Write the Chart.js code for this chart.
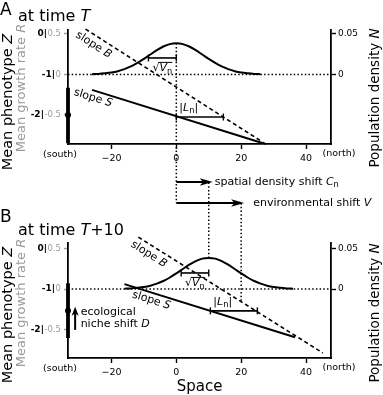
<!DOCTYPE html>
<html><head><meta charset="utf-8">
<script src="https://cdn.jsdelivr.net/npm/chart.js@4.4.1/dist/chart.umd.min.js"></script>
<style>
html,body{margin:0;padding:0;background:#fff;}
#wrap{position:relative;width:383px;height:395px;overflow:hidden;background:#fff;}
#wrap canvas{position:absolute;left:0;}
</style></head><body>
<div id="wrap">
<canvas id="cA" width="383" height="215" style="top:0;width:383px;height:215px"></canvas>
<canvas id="cB" width="383" height="225" style="top:170px;width:383px;height:225px"></canvas>
</div>
<script>
// ---------- shared axes ----------
const xRange = [-33.4, 47.7];
const xTicks = [-20, 0, 20, 40];
const rTicks = [0.5, 0, -0.5];
const zTickLabels = ['0', '-1', '-2'];
const nTicks = [0, 0.05];

// ---------- panel A : at time T ----------
const rRangeA = [-0.858, 0.549];
const nRangeA = [-0.0858, 0.0549];
const densityXA = [-26,-24,-22,-20,-18,-16,-14,-12,-10,-8,-6,-4,-2,0,2,4,6,8,10,12,14,16,18,20,22,24,26];
const densityA  = [0.0004,0.0007,0.0014,0.0024,0.0041,0.0066,0.0099,0.0142,0.0193,0.0247,0.0300,0.0345,0.0375,0.0385,0.0375,0.0345,0.0300,0.0247,0.0193,0.0142,0.0099,0.0066,0.0041,0.0024,0.0014,0.0007,0.0004];
const growthXA = [-26,-22,-18,-14,-10,-6,-2,2,6,10,14,18,22,26];
const growthA  = [-0.660,-0.535,-0.418,-0.311,-0.211,-0.120,-0.038,0.036,0.100,0.157,0.205,0.244,0.275,0.296];
const phenoXA = [-26, 26.5];
const phenoA  = [-1.38, -2.69];      // slope S
const optimumXA = [-28, 28];
const optimumA  = [0.12, -2.74];     // slope B
const nicheA = [-1.33, -2.0, -2.70]; // top, centre, bottom (Z)
const sdXA = [-8.6, 0];  const sdLevelA = 0.0204;
const lagXA = [0, 14.5]; const lagLevelA = -2.05;
const linkXA = 0; const linkA = [0.0385, -0.1586];

// ---------- shifts between panels ----------
const shiftCn = [0, 10];
const shiftV  = [0, 20];
const shiftLevelsA = [-0.1327, -0.1586];   // on panel A density scale

// ---------- panel B : at time T+10 ----------
const rRangeB = [-0.852, 0.568];
const nRangeB = [-0.0852, 0.0568];
const densityXB = [-16,-14,-12,-10,-8,-6,-4,-2,0,2,4,6,8,10,12,14,16,18,20,22,24,26,28,30,32,34,36];
const densityB  = [0.0004,0.0007,0.0014,0.0024,0.0041,0.0066,0.0099,0.0142,0.0193,0.0247,0.0300,0.0345,0.0375,0.0383,0.0375,0.0345,0.0300,0.0247,0.0193,0.0142,0.0099,0.0066,0.0041,0.0024,0.0014,0.0007,0.0004];
const growthXB = [-16,-12,-8,-4,0,4,8,12,16,20,24,28,32,36];
const growthB  = [-0.690,-0.562,-0.444,-0.334,-0.232,-0.140,-0.057,0.018,0.084,0.141,0.189,0.228,0.259,0.280];
const phenoXB = [-16, 36.6];
const phenoB  = [-0.88, -2.19];
const optimumXB = [-11.7, 45.2];
const optimumB  = [0.28, -2.58];
const nicheB = [-0.86, -1.54, -2.21];
const sdXB = [1.5, 10];   const sdLevelB = 0.0198;
const lagXB = [10.5, 25]; const lagLevelB = -1.54;
const linkXB1 = 10; const linkB1 = [0.0383, 0.132];
const linkXB2 = 20; const linkB2 = [0.106, -0.0148];
const nicheShiftXD = -31.2; const nicheShiftD = [-2.01, -1.44];

// ---------- helpers ----------
const FONT = '"DejaVu Sans"';
const GRAY = '#9b9b9b';
const DOT = [1.5, 2.2];

function rich(ctx, parts, x, y, o) {
  o = o || {};
  const size = o.size || 11, color = o.color || '#000';
  ctx.save();
  ctx.translate(x, y);
  if (o.rot) ctx.rotate(o.rot);
  ctx.fillStyle = color;
  ctx.textBaseline = o.baseline || 'middle';
  ctx.textAlign = 'left';
  const fontOf = st => (st === 'i' ? 'italic ' : st === 'b' ? 'bold ' : '') + (st === 'sub' ? size * 0.75 : size) + 'px ' + FONT;
  let total = 0;
  const ws = parts.map(p => { ctx.font = fontOf(p[1]); const w = ctx.measureText(p[0]).width; total += w; return w; });
  let cx = o.align === 'center' ? -total / 2 : o.align === 'right' ? -total : 0;
  const pos = [];
  parts.forEach((p, i) => {
    ctx.font = fontOf(p[1]);
    ctx.fillText(p[0], cx, p[1] === 'sub' ? size * 0.3 : 0);
    pos.push([cx, cx + ws[i]]);
    cx += ws[i];
  });
  if (o.overline) {
    const a = pos[o.overline[0]][0], b = pos[o.overline[1]][1];
    ctx.strokeStyle = color; ctx.lineWidth = 1;
    ctx.beginPath(); ctx.moveTo(a - 1, -size * 0.55); ctx.lineTo(b, -size * 0.55); ctx.stroke();
  }
  ctx.restore();
  return total;
}

function arrow(ctx, x1, y1, x2, y2, hl, hw, lw) {
  const a = Math.atan2(y2 - y1, x2 - x1);
  ctx.save();
  ctx.strokeStyle = '#000'; ctx.fillStyle = '#000'; ctx.lineWidth = lw;
  ctx.beginPath(); ctx.moveTo(x1, y1);
  ctx.lineTo(x2 - hl * 0.7 * Math.cos(a), y2 - hl * 0.7 * Math.sin(a)); ctx.stroke();
  ctx.translate(x2, y2); ctx.rotate(a);
  ctx.beginPath(); ctx.moveTo(0, 0); ctx.lineTo(-hl, -hw); ctx.lineTo(-hl * 0.75, 0); ctx.lineTo(-hl, hw); ctx.closePath(); ctx.fill();
  ctx.restore();
}

function labelOnLine(ctx, X, S, xs, ys, atX, off, parts) {
  const x1 = X.getPixelForValue(xs[0]), y1 = S.getPixelForValue(ys[0]);
  const x2 = X.getPixelForValue(xs[1]), y2 = S.getPixelForValue(ys[1]);
  const th = Math.atan2(y2 - y1, x2 - x1);
  const px = X.getPixelForValue(atX);
  const py = y1 + (px - x1) * (y2 - y1) / (x2 - x1);
  rich(ctx, parts, px - off * Math.sin(th), py + off * Math.cos(th), { size: 11, align: 'center', rot: th });
}

function pts(xs, ys) { return xs.map((x, i) => ({ x: x, y: ys[i] })); }
function ds(data, axis, extra) {
  return Object.assign({ data: data, yAxisID: axis, pointRadius: 0, borderColor: '#000', borderWidth: 2,
    fill: false, clip: false, tension: 0, borderCapStyle: 'butt' }, extra || {});
}
const barEnds = { pointRadius: 3.5, pointStyle: 'line', rotation: 90, pointBorderWidth: 1.4, pointBorderColor: '#000', borderWidth: 1.6 };

function mkScales(rRange, nRange, xAxisH) {
  return {
    x: { type: 'linear', min: xRange[0], max: xRange[1],
      afterBuildTicks: s => { s.ticks = xTicks.map(v => ({ value: v })); },
      afterFit: s => { s.height = xAxisH; },
      ticks: { callback: v => v < 0 ? '\u2212' + Math.abs(v) : String(v), font: { family: 'DejaVu Sans', size: 9.5 }, color: '#000', padding: 4, autoSkip: false, maxRotation: 0 },
      grid: { display: true, drawOnChartArea: false, drawTicks: true, tickLength: 5, tickColor: '#000', tickWidth: 1.4 },
      border: { display: true, color: '#000', width: 1.8 } },
    r: { position: 'left', min: rRange[0], max: rRange[1],
      afterBuildTicks: s => { s.ticks = rTicks.map(v => ({ value: v })); },
      afterFit: s => { s.width = 68; },
      ticks: { callback: v => v === 0 ? '0' : String(v), font: { family: 'DejaVu Sans', size: 8.5 }, color: GRAY, padding: 3, autoSkip: false },
      grid: { display: true, drawOnChartArea: false, drawTicks: true, tickLength: 4, tickColor: GRAY, tickWidth: 1.4 },
      border: { display: true, color: '#000', width: 1.8 } },
    z: { position: 'left', display: false, min: 2 * rRange[0] - 1, max: 2 * rRange[1] - 1 },
    n: { position: 'right', min: nRange[0], max: nRange[1],
      afterBuildTicks: s => { s.ticks = nTicks.map(v => ({ value: v })); },
      afterFit: s => { s.width = 52; },
      ticks: { callback: v => v === 0 ? '0' : String(v), font: { family: 'DejaVu Sans', size: 9 }, color: '#000', padding: 2, autoSkip: false },
      grid: { display: true, drawOnChartArea: false, drawTicks: true, tickLength: 5, tickColor: '#000', tickWidth: 1.4 },
      border: { display: true, color: '#000', width: 1.8 } }
  };
}

function commonDecor(chart, P) {
  const ctx = chart.ctx, ca = chart.chartArea;
  const X = chart.scales.x, R = chart.scales.r, Z = chart.scales.z, N = chart.scales.n;
  rTicks.forEach((v, i) => {
    const y = R.getPixelForValue(v);
    ctx.font = '8.5px ' + FONT;
    const w = ctx.measureText(v === 0 ? '0' : String(v)).width;
    rich(ctx, [[zTickLabels[i] + '|', 'b']], ca.left - 7 - w - 0.5, y, { size: 9, align: 'right' });
  });
  rich(ctx, [[P.letter, '']], 0, P.letterY, { size: 17, baseline: 'alphabetic' });
  rich(ctx, P.title, 18, P.titleY, { size: 16, baseline: 'alphabetic' });
  rich(ctx, [['Mean phenotype ', ''], ['Z', 'i']], 8, P.zTitleY, { size: 14.5, align: 'center', rot: -Math.PI / 2 });
  rich(ctx, [['Mean growth rate ', ''], ['R', 'i']], 21.5, P.rTitleY, { size: 13, align: 'center', rot: -Math.PI / 2, color: GRAY });
  rich(ctx, [['Population density ', ''], ['N', 'i']], 375, P.nTitleY, { size: 13.5, align: 'center', rot: -Math.PI / 2 });
  rich(ctx, [['(south)', '']], ca.left - 8, ca.bottom + 11, { size: 9.5, align: 'center' });
  rich(ctx, [['(north)', '']], ca.right + 8, ca.bottom + 10, { size: 9.5, align: 'center' });
  labelOnLine(ctx, X, Z, P.optX, P.opt, P.slopeBAt, 9, [['slope ', ''], ['B', 'i']]);
  labelOnLine(ctx, X, Z, P.phX, P.ph, P.slopeSAt, 7.5, [['slope ', ''], ['S', 'i']]);
  const sdMid = (X.getPixelForValue(P.sdX[0]) + X.getPixelForValue(P.sdX[1])) / 2;
  rich(ctx, [['\u221A', ''], ['V', 'i'], ['n', 'sub']], sdMid, N.getPixelForValue(P.sdLevel) + 10.5, { size: 11, align: 'center', overline: [1, 2] });
  rich(ctx, [['|', ''], ['L', 'i'], ['n', 'sub'], ['|', '']], X.getPixelForValue(P.lagX[0]) + 3, Z.getPixelForValue(P.lagLevel) - 9, { size: 11 });
}

function datasetsFor(P) {
  return [
    ds(pts(P.densX, P.dens), 'n', { cubicInterpolationMode: 'monotone' }),
    ds(pts(P.phX, P.ph), 'z'),
    ds(pts(P.optX, P.opt), 'z', { borderDash: [4, 3], borderWidth: 1.6 }),
    ds(pts(P.sdX, [P.sdLevel, P.sdLevel]), 'n', barEnds),
    ds(pts(P.lagX, [P.lagLevel, P.lagLevel]), 'z', barEnds),
    ds(pts([xRange[0], xRange[0]], [P.niche[0], P.niche[2]]), 'z', { borderWidth: 3.8 }),
    ds([{ x: xRange[0], y: P.niche[1] }], 'z', { pointRadius: 3, pointBackgroundColor: '#000', pointBorderWidth: 0, showLine: false }),
    ds(pts(P.growX, P.grow), 'r', { borderColor: GRAY, borderWidth: 1.6, cubicInterpolationMode: 'monotone' }),
    ds(pts(xRange, [0, 0]), 'n', { borderDash: DOT, borderWidth: 1.5 })
  ].concat(P.links.map(l => ds(pts([l[0], l[0]], l[1]), 'n', { borderDash: DOT, borderWidth: 1.5 })));
}

const PA = { letter: 'A', letterY: 15, title: [['at time ', ''], ['T', 'i']], titleY: 21,
  zTitleY: 102, rTitleY: 88, nTitleY: 98,
  densX: densityXA, dens: densityA, growX: growthXA, grow: growthA, phX: phenoXA, ph: phenoA,
  optX: optimumXA, opt: optimumA, niche: nicheA, sdX: sdXA, sdLevel: sdLevelA, lagX: lagXA, lagLevel: lagLevelA,
  slopeBAt: -24, slopeSAt: -25, links: [[linkXA, linkA]] };
const PB = { letter: 'B', letterY: 52, title: [['at time ', ''], ['T', 'i'], ['+10', '']], titleY: 65,
  zTitleY: 145, rTitleY: 133, nTitleY: 143,
  densX: densityXB, dens: densityB, growX: growthXB, grow: growthB, phX: phenoXB, ph: phenoB,
  optX: optimumXB, opt: optimumB, niche: nicheB, sdX: sdXB, sdLevel: sdLevelB, lagX: lagXB, lagLevel: lagLevelB,
  slopeBAt: -7, slopeSAt: -7, links: [[linkXB1, linkB1], [linkXB2, linkB2]] };

const baseOpts = { responsive: false, animation: false, devicePixelRatio: 1, events: [],
  plugins: { legend: { display: false }, tooltip: { enabled: false } } };

new Chart(document.getElementById('cA'), {
  type: 'line',
  data: { datasets: datasetsFor(PA) },
  options: Object.assign({}, baseOpts, { layout: { padding: { top: 30, left: 0, right: 0, bottom: 0 } }, scales: mkScales(rRangeA, nRangeA, 71) }),
  plugins: [{ id: 'decorA', afterDraw(chart) {
    commonDecor(chart, PA);
    const ctx = chart.ctx, X = chart.scales.x, N = chart.scales.n;
    const y1 = N.getPixelForValue(shiftLevelsA[0]), y2 = N.getPixelForValue(shiftLevelsA[1]);
    const t1 = X.getPixelForValue(shiftCn[1]) + 4, t2 = X.getPixelForValue(shiftV[1]) + 3;
    arrow(ctx, X.getPixelForValue(shiftCn[0]), y1, t1, y1, 13, 3.8, 2);
    arrow(ctx, X.getPixelForValue(shiftV[0]), y2, t2, y2, 13, 3.8, 2);
    rich(ctx, [['spatial density shift ', ''], ['C', 'i'], ['n', 'sub']], t1 + 2, y1, { size: 11 });
    rich(ctx, [['environmental shift ', ''], ['V', 'i']], t2 + 9, y2, { size: 11 });
  } }]
});

new Chart(document.getElementById('cB'), {
  type: 'line',
  data: { datasets: datasetsFor(PB) },
  options: Object.assign({}, baseOpts, { layout: { padding: { top: 73, left: 0, right: 0, bottom: 0 } }, scales: mkScales(rRangeB, nRangeB, 37) }),
  plugins: [{ id: 'decorB', afterDraw(chart) {
    commonDecor(chart, PB);
    const ctx = chart.ctx, ca = chart.chartArea, X = chart.scales.x, Z = chart.scales.z;
    const ax = X.getPixelForValue(nicheShiftXD);
    arrow(ctx, ax, Z.getPixelForValue(nicheShiftD[0]), ax, Z.getPixelForValue(nicheShiftD[1]), 9, 3.5, 2);
    rich(ctx, [['ecological', '']], ax + 5.5, Z.getPixelForValue(-1.568), { size: 11 });
    rich(ctx, [['niche shift ', ''], ['D', 'i']], ax + 5.5, Z.getPixelForValue(-1.864), { size: 11 });
    rich(ctx, [['Space', '']], (ca.left + ca.right) / 2, 217, { size: 15, align: 'center' });
  } }]
});
</script>
</body></html>
